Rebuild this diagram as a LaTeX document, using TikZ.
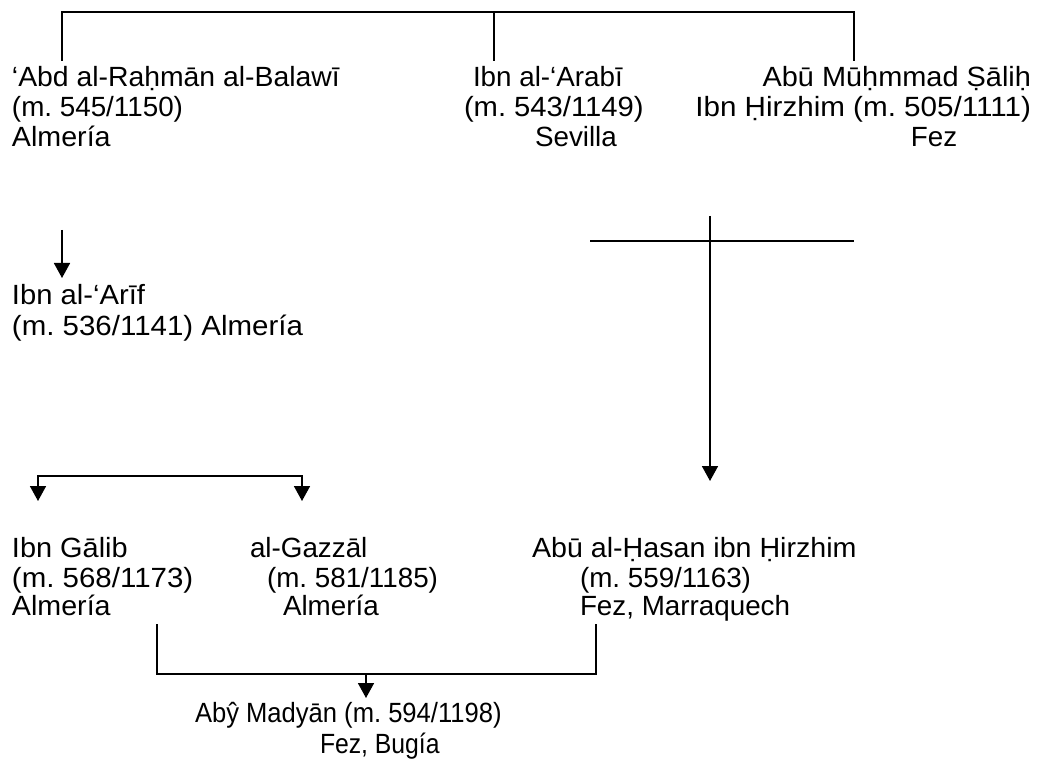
\documentclass[tikz,border=0pt]{standalone}
\usepackage{fontspec}
\setmainfont{Liberation Sans}
\usetikzlibrary{arrows.meta}
\frenchspacing
\tikzset{
  txt/.style={inner sep=0pt, outer sep=0pt, anchor=base west, font=\frenchspacing\fontsize{27.8}{30}\selectfont},
  st/.style={font={\frenchspacing\fontsize{27.8}{30}\selectfont\addfontfeature{FakeStretch=#1}}},
  txte/.style={txt, anchor=base east},
  txtc/.style={txt, anchor=base},
  link/.style={line width=1.7pt, line cap=rect},
  arr/.style={line width=1.7pt, -{Triangle[width=16pt,length=15pt]}}
}
\begin{document}
\begin{tikzpicture}[x=1pt,y=-1pt]
\useasboundingbox (0,0) rectangle (1037,762);
% texts, top row
\node[txt, st=1.02] (a1) at (12,87) {‘Abd al-Raḥmān al-Balawī};
\node[txt] (a2) at (12,117) {(m. 545/1150)};
\node[txt, st=1.03] (a3) at (12,147) {Almería};
\node[txt] (b1) at (473,87) {Ibn al-‘Arabī};
\node[txt, st=1.05] (b2) at (464,117) {(m. 543/1149)};
\node[txt] (b3) at (535,147) {Sevilla};
\node[txte, st=1.04] (c1) at (1031,87) {Abū Mūḥmmad Ṣāliḥ};
\node[txte, st=1.065] (c2) at (1031,117) {Ibn Ḥirzhim (m. 505/1111)};
\node[txtc] (c3) at (934,147) {Fez};
% Ibn al-Arif
\node[txt, st=1.05] (d1) at (12,305) {Ibn al-‘Arīf};
\node[txt, st=1.06] (d2) at (12,335) {(m. 536/1141) Almería};
% third row
\node[txt, st=1.04] (e1) at (12,557) {Ibn Gālib};
\node[txt, st=1.06] (e2) at (12,587) {(m. 568/1173)};
\node[txt, st=1.03] (e3) at (12,615) {Almería};
\node[txt] (f1) at (250,557) {al-Gazzāl};
\node[txt] (f2) at (267,587) {(m. 581/1185)};
\node[txt] (f3) at (283,615) {Almería};
\node[txt, st=1.03] (g1) at (532,557) {Abū al-Ḥasan ibn Ḥirzhim};
\node[txt] (g2) at (580,587) {(m. 559/1163)};
\node[txt] (g3) at (580,615) {Fez, Marraquech};
% bottom
\node[txt, st=0.92] (h1) at (195,722) {Abŷ Madyān (m. 594/1198)};
\node[txt, st=0.89] (h2) at (320,753) {Fez, Bugía};
% connector coordinates
\coordinate (ta) at (62,12);
\coordinate (tb) at (494,12);
\coordinate (tc) at (854,12);
\coordinate (ba) at (62,60);
\coordinate (bb) at (494,60);
\coordinate (bc) at (854,60);
\draw[link] (ba) -- (ta) -- (tc) -- (bc);
\draw[link] (tb) -- (bb);
% cross
\coordinate (xl) at (590,241);
\coordinate (xr) at (854,241);
\coordinate (xt) at (710,216);
\coordinate (xb) at (710,481);
\draw[link, line cap=butt] (xl) -- (xr);
\draw[arr] (xt) -- (xb);
% arrow to Ibn al-Arif
\coordinate (ds) at (62,230);
\coordinate (de) at (62,278);
\draw[arr] (ds) -- (de);
% bracket to Ibn Galib and al-Gazzal
\coordinate (el) at (38,476);
\coordinate (er) at (302,476);
\coordinate (eal) at (38,501);
\coordinate (ear) at (302,501);
\draw[arr] (el) -- (eal);
\draw[arr] (er) -- (ear);
\draw[link] (el) -- (er);
% bottom bracket
\coordinate (hl) at (157,625);
\coordinate (hr) at (596,625);
\coordinate (hlb) at (157,674);
\coordinate (hrb) at (596,674);
\coordinate (hm) at (366,674);
\coordinate (hme) at (366,698);
\draw[link] (hl) -- (hlb) -- (hrb) -- (hr);
\draw[arr] (hm) -- (hme);
\end{tikzpicture}
\end{document}
